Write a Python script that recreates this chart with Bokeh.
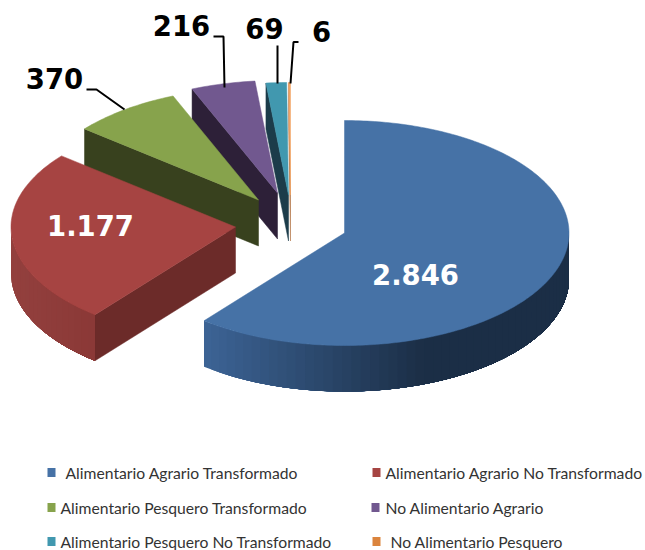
import numpy as np
from bokeh.plotting import figure
from bokeh.embed import file_html
from bokeh.resources import INLINE
from bokeh.core.properties import value
from bokeh.models import Range1d

categories = ["Alimentario Agrario Transformado", "Alimentario Agrario No Transformado",
              "Alimentario Pesquero Transformado", "No Alimentario Agrario",
              "Alimentario Pesquero No Transformado", "No Alimentario Pesquero"]
values = [2846, 1177, 370, 216, 69, 6]
value_labels = ["2.846", "1.177", "370", "216", "69", "6"]

# styling / layout (window pixels)
top_colors = ["#4672a6", "#a64442", "#87a34c", "#71588f", "#4198af", "#f2a261"]
wall_colors = ["#2a4a70", "#6c2b29", "#38411e", "#2d2038", "#1c3c4a", "#b07040"]
rim_left = ["#3c6394", "#93403e", "#38411e", "#2d2038", "#1c3c4a", "#b07040"]
rim_right = ["#1b2e46", "#8a3836", "#38411e", "#2d2038", "#1c3c4a", "#b07040"]
rim_span = [215, 85, 1, 1, 1, 1]
legend_colors = ["#4672a6", "#a64442", "#87a34c", "#71588f", "#4198af", "#db843d"]
apex_x = [344, 235, 258, 277, 288, 290]
apex_y = [232.5, 226.5, 199.5, 192.5, 194.5, 194.5]
RX, RY, DEPTH = 224.5, 112.5, 46

p = figure(width=645, height=550, toolbar_location=None, output_backend="svg",
           x_range=Range1d(0, 645), y_range=Range1d(550, 0))
p.axis.visible = False
p.grid.visible = False
p.outline_line_color = None
p.min_border = 0
p.min_border_left = p.min_border_right = p.min_border_top = p.min_border_bottom = 0

v = np.array(values, dtype=float)
cum = np.concatenate([[0], np.cumsum(v)]) / v.sum() * 2 * np.pi


def lerp(c1, c2, t):
    a = [int(c1[i:i + 2], 16) for i in (1, 3, 5)]
    b = [int(c2[i:i + 2], 16) for i in (1, 3, 5)]
    return "#%02x%02x%02x" % tuple(int(round(a[k] + (b[k] - a[k]) * t)) for k in range(3))


for i in range(len(values) - 1, -1, -1):
    a0, a1 = cum[i], cum[i + 1]
    ax, ay = apex_x[i], apex_y[i]
    th = np.linspace(a0, a1, max(4, int((a1 - a0) * 60)))
    xs = ax + RX * np.sin(th)
    ys = ay - RY * np.cos(th)
    # radial wall on the slice's starting edge
    if i > 0:
        x0, y0 = ax + RX * np.sin(a0), ay - RY * np.cos(a0)
        p.patch([ax, x0, x0, ax], [ay, y0, y0 + DEPTH, ay + DEPTH],
                fill_color=wall_colors[i], line_color=wall_colors[i], line_width=0.5)
    # outer rim, front half only; painted left to right so that no seams show
    lo, hi = max(a0, np.pi / 2), min(a1, 3 * np.pi / 2)
    if hi > lo:
        edges = np.linspace(lo, hi, int((hi - lo) * 24) + 2)
        ex = ax + RX * np.sin(edges)
        order = np.argsort(ex)
        sorted_edges = edges[order]
        emin = ex.min()
        for k in range(len(edges) - 1):
            lo_e, hi_e = sorted(sorted_edges[k:][[0, -1]])
            tt = np.linspace(lo_e, hi_e, 60)
            sx = ax + RX * np.sin(tt)
            sy = ay - RY * np.cos(tt)
            t = min(1.0, (ex[order][k] - emin) / rim_span[i])
            col = lerp(rim_left[i], rim_right[i], t)
            p.patch(np.r_[sx, sx[::-1]], np.r_[sy, sy[::-1] + DEPTH],
                    fill_color=col, line_color=None)
    # top face
    p.patch(np.r_[ax, xs], np.r_[ay, ys], fill_color=top_colors[i],
            line_color=top_colors[i], line_width=0.5)

# leader lines
leaders_x = [[86, 96, 124], [213, 223, 224], [277, 277], [298, 293, 290]]
leaders_y = [[89, 89, 109], [36, 36, 87], [45, 83], [41.5, 41.5, 83]]
p.multi_line(leaders_x, leaders_y, line_color="#000000", line_width=2)

# value labels
label_x = [415, 90, 54, 181, 264, 321]
label_y = [274, 225, 78, 25, 28, 31]
label_colors = ["#ffffff", "#ffffff", "#000000", "#000000", "#000000", "#000000"]
p.text(label_x, label_y, text=value_labels, text_color=label_colors,
       text_font=value("DejaVu Sans"), text_font_style="bold", text_font_size="27.5px",
       text_align="center", text_baseline="middle")

# legend
mark_x = [51, 376, 51, 375, 51, 376]
mark_y = [472, 472, 507, 507, 541, 541]
text_x = [65, 385, 60, 385, 60, 390]
p.rect(mark_x, mark_y, width=8, height=9, fill_color=legend_colors, line_color=None)
p.text(text_x, mark_y, text=categories, text_color="#333333",
       text_font=value("Lato"), text_font_size="15.7px",
       text_align="left", text_baseline="middle")

open("out.html", "w").write(file_html(p, INLINE))
